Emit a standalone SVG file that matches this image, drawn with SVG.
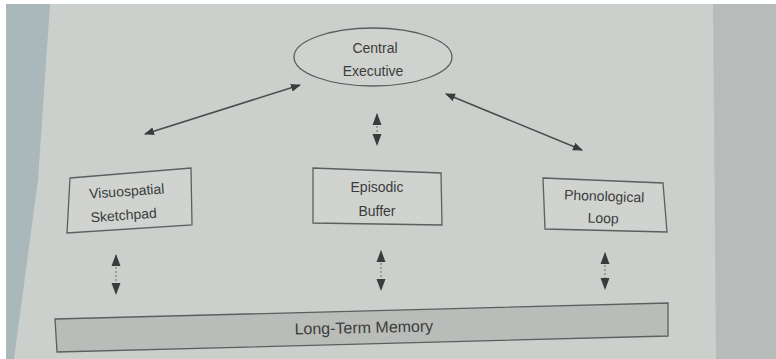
<svg xmlns="http://www.w3.org/2000/svg" width="776" height="359" viewBox="0 0 776 359">
<defs>
<style>
.lbl{font-family:"Liberation Sans",Arial,sans-serif;font-size:14px;fill:#3b3d3c;text-anchor:middle}
.box{fill:#d0d3cf;stroke:#5c5f5e;stroke-width:1.3}
.ln{stroke:#4a4c4b;stroke-width:1.5;fill:none}
.vln{stroke:#6a6c6b;stroke-width:1;fill:none;stroke-dasharray:2 2}
.hd{fill:#3a3c3b}
</style>
<marker id="ah" viewBox="0 0 10 10" refX="9" refY="5" markerWidth="10" markerHeight="10" orient="auto-start-reverse" markerUnits="userSpaceOnUse">
<path d="M0,1 L10,5 L0,9 z" class="hd"/>
</marker>
<marker id="vh" viewBox="0 0 12 10" refX="11" refY="5" markerWidth="12" markerHeight="10" orient="auto-start-reverse" markerUnits="userSpaceOnUse">
<path d="M0,0.5 L12,5 L0,9.5 z" class="hd"/>
</marker>
</defs>
<rect width="776" height="359" fill="#ffffff"/>
<rect x="6" y="4" width="770" height="355" fill="#ccd0cc"/>
<polygon points="713,4 776,4 776,359 716,359" fill="#b7bbba"/>
<polygon points="6,4 50,4 38,180 14,359 6,359" fill="#aab7bb"/>

<g id="central-executive">
<ellipse cx="373" cy="57" rx="79" ry="29" fill="#cfd2ce" stroke="#5a5d5c" stroke-width="1.3"/>
<text class="lbl" x="375" y="53">Central</text>
<text class="lbl" x="373" y="76">Executive</text>
</g>

<g id="visuospatial-sketchpad">
<polygon class="box" points="70,178 191,168 192,225 67,233"/>
<text class="lbl" x="127" y="196" transform="rotate(-4 127 196)">Visuospatial</text>
<text class="lbl" x="124" y="220" transform="rotate(-4 124 220)">Sketchpad</text>
</g>

<g id="episodic-buffer">
<polygon class="box" points="313,168 441,173 442,225 313,223"/>
<text class="lbl" x="377" y="192">Episodic</text>
<text class="lbl" x="377" y="216">Buffer</text>
</g>

<g id="phonological-loop">
<polygon class="box" points="543,178 663,183 667,232 545,229"/>
<text class="lbl" x="604" y="201" transform="rotate(2 604 201)">Phonological</text>
<text class="lbl" x="603" y="223" transform="rotate(2 603 223)">Loop</text>
</g>

<g id="long-term-memory">
<polygon points="55,319 668,303 668,336 57,352" fill="#b9bcb8" stroke="#5c5f5e" stroke-width="1.3"/>
<text class="lbl" x="364" y="333" style="font-size:16px" transform="rotate(-1.3 364 333)">Long-Term Memory</text>
</g>

<g id="connectors">
<line class="ln" x1="145" y1="134" x2="300" y2="85" marker-start="url(#ah)" marker-end="url(#ah)"/>
<line class="ln" x1="446" y1="94" x2="582" y2="150" marker-start="url(#ah)" marker-end="url(#ah)"/>
<line class="vln" x1="377" y1="114" x2="377" y2="145" marker-start="url(#vh)" marker-end="url(#vh)"/>
<line class="vln" x1="116" y1="255" x2="116" y2="294" marker-start="url(#vh)" marker-end="url(#vh)"/>
<line class="vln" x1="381" y1="251" x2="381" y2="290" marker-start="url(#vh)" marker-end="url(#vh)"/>
<line class="vln" x1="605" y1="253" x2="605" y2="289" marker-start="url(#vh)" marker-end="url(#vh)"/>
</g>
</svg>
